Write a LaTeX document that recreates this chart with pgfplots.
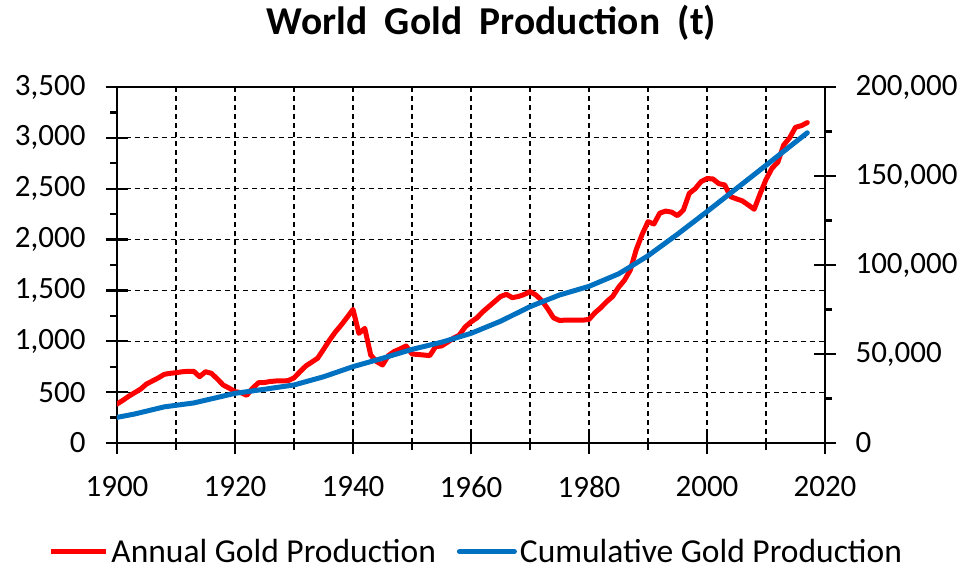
\documentclass[border=0pt]{standalone}
\usepackage{fontspec}
\setmainfont{Carlito}
\usepackage{pgfplots}
\pgfplotsset{compat=1.18}
\definecolor{cumblue}{RGB}{0,112,192}
\definecolor{annred}{RGB}{255,0,0}
\pgfplotstableread{
year val
1900 383
1901 420
1902 460
1903 495
1904 530
1905 580
1906 610
1907 640
1908 675
1909 685
1910 691
1911 700
1912 705
1913 705
1914 652
1915 701
1916 685
1917 630
1918 570
1919 540
1920 505
1921 495
1922 469
1923 540
1924 593
1925 595
1926 605
1927 610
1928 610
1929 613
1930 640
1931 700
1932 757
1933 795
1934 833
1935 920
1936 1010
1937 1090
1938 1160
1939 1235
1940 1314
1941 1078
1942 1127
1943 865
1944 800
1945 767
1946 860
1947 900
1948 925
1949 954
1950 875
1951 870
1952 865
1953 859
1954 947
1955 954
1956 990
1957 1030
1958 1060
1959 1140
1960 1190
1961 1230
1962 1290
1963 1340
1964 1390
1965 1440
1966 1462
1967 1429
1968 1440
1969 1460
1970 1488
1971 1455
1972 1400
1973 1320
1974 1230
1975 1205
1976 1208
1977 1208
1978 1208
1979 1208
1980 1215
1981 1280
1982 1330
1983 1390
1984 1440
1985 1530
1986 1600
1987 1700
1988 1900
1989 2050
1990 2176
1991 2153
1992 2260
1993 2280
1994 2270
1995 2235
1996 2291
1997 2455
1998 2500
1999 2570
2000 2600
2001 2596
2002 2550
2003 2537
2004 2422
2005 2400
2006 2380
2007 2340
2008 2298
2009 2450
2010 2590
2011 2700
2012 2760
2013 2930
2014 3000
2015 3104
2016 3120
2017 3150
}\annual
\pgfplotstableread{
year val
1900 14400
1903 16300
1908 20300
1913 22500
1920 27900
1925 30200
1930 32600
1935 37200
1940 42900
1945 47600
1950 52600
1955 56600
1960 61600
1965 68400
1970 76600
1975 83150
1980 88000
1985 95000
1987 99000
1990 105200
1995 117300
2000 130000
2005 143000
2010 156000
2017 174300
}\cumul
\pgfplotsset{
  common/.style={
    at={(0pt,0pt)}, anchor=south west,
    scale only axis, width=708pt, height=356pt,
    xmin=1900, xmax=2020,
    axis line style={line width=2.8pt, black},
    every tick/.style={black, line width=2.2pt},
    tick align=outside, major tick length=11pt, minor tick length=7pt,
    tick label style={font=\fontsize{31}{31}\selectfont},
    /pgf/number format/fixed,
    /pgf/number format/assume math mode=true,
    /pgf/number format/1000 sep={,},
    scaled ticks=false,
  }
}
\begin{document}
\begin{tikzpicture}
\useasboundingbox (-117pt,-128pt) rectangle (852pt,443pt);
\begin{axis}[common,
  ymin=0, ymax=3500,
  xtick={1900,1920,...,2020}, minor x tick num=1,
  ytick={0,500,...,3500}, minor y tick num=1,
  xtick pos=bottom, ytick pos=left,
  xmajorgrids, xminorgrids, ymajorgrids,
  major grid style={black, line width=1.2pt, dash pattern=on 5pt off 4pt},
  minor grid style={black, line width=1.2pt, dash pattern=on 5pt off 4pt},
  xticklabel style={/pgf/number format/1000 sep={}, yshift=-19pt},
  yticklabel style={xshift=-17pt},
  extra x ticks={1900,1920,...,2020}, extra x tick labels={},
  extra x tick style={tick align=inside, major tick length=11pt},
  extra y ticks={0,500,...,3500}, extra y tick labels={},
  extra y tick style={tick align=inside, major tick length=11pt},
]
\addplot[annred, line width=5pt, line join=round, line cap=round] table[x=year,y=val] {\annual};
\end{axis}
\begin{axis}[common,
  ymin=0, ymax=200000,
  axis x line=none, axis y line*=right,
  ytick={0,50000,...,200000}, minor y tick num=1,
  yticklabel style={xshift=16pt},
  extra y ticks={0,50000,...,200000}, extra y tick labels={},
  extra y tick style={tick align=inside, major tick length=11pt},
  legend columns=2,
  legend style={at={(0.508,-0.305)}, anchor=center, draw=none, fill=none,
    font=\fontsize{33.5}{34}\selectfont,
    nodes={inner xsep=3pt, inner ysep=1pt},
    /tikz/every even column/.append style={column sep=18pt}},
  legend image code/.code={\draw[#1] (0pt,0pt) -- (55pt,0pt);},
]
\addlegendimage{annred, line width=5pt}
\addlegendentry{Annual Gold Production}
\addplot[cumblue, line width=5pt, line join=round, line cap=round] table[x=year,y=val] {\cumul};
\addlegendentry{Cumulative Gold Production}
\end{axis}
\node[anchor=base, font=\fontsize{39.5}{39.5}\selectfont\bfseries] at (374.5pt,408pt) {World\hspace{0.22em} Gold\hspace{0.22em} Production\hspace{0.22em} (t)};
\end{tikzpicture}
\end{document}
